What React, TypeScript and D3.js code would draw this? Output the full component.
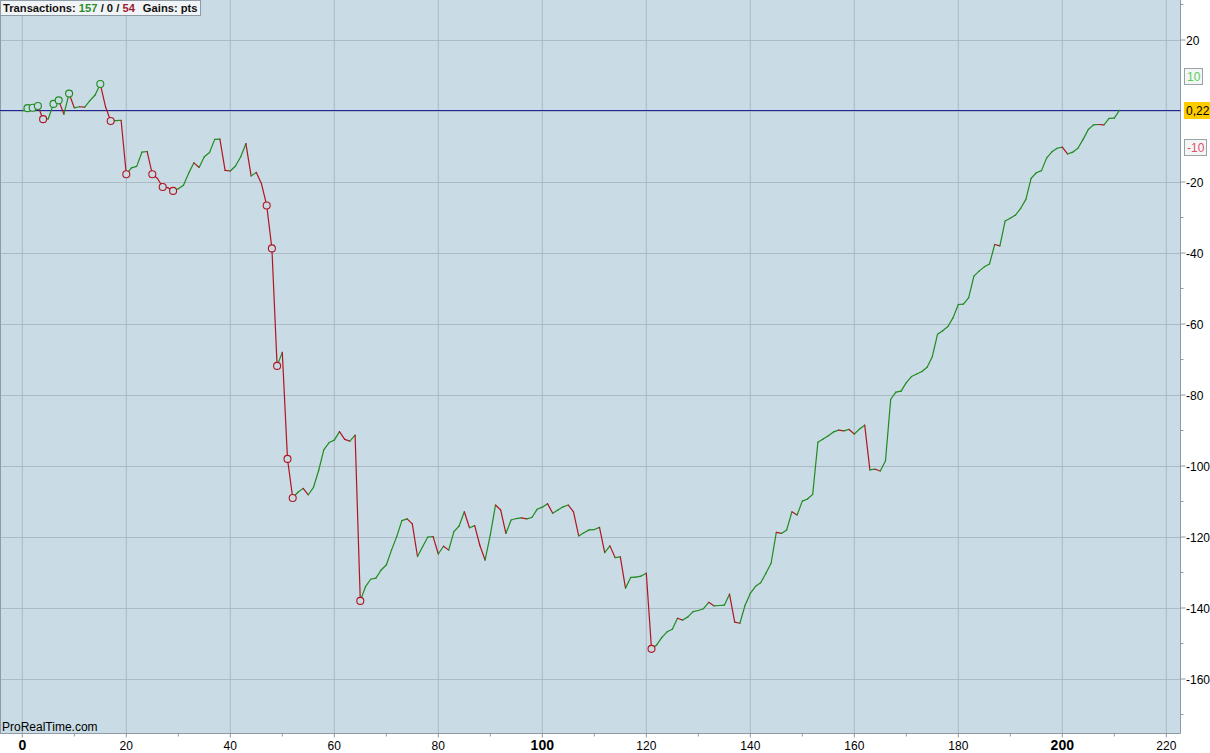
import React, { useEffect } from "react";
import * as d3 from "d3";

// equity curve, one point per closed trade (pts)
const equity: number[] = [
  0, 0.8, 0.9, 1.4, -2.3, -2.2, 2.0, 3.0, -0.9, 4.9,
  0.9, 1.2, 1.1, 2.9, 4.5, 7.6, 1.2, -2.8, -2.7, -2.6,
  -17.8, -16.0, -15.6, -11.6, -11.4, -17.8, -19.0, -21.4, -21.6, -22.5,
  -21.9, -20.9, -17.5, -14.6, -15.9, -12.9, -11.7, -8.0, -7.9, -16.7,
  -16.9, -15.5, -12.9, -9.2, -18.3, -17.3, -20.5, -26.6, -38.7, -71.8,
  -68.0, -98.0, -109.0, -107.4, -106.3, -108.1, -106.0, -101.2, -95.4, -93.4,
  -92.7, -90.3, -92.5, -93.0, -91.3, -138.0, -134.0, -131.9, -131.6, -129.3,
  -127.9, -123.7, -119.9, -115.4, -114.9, -116.3, -125.5, -122.7, -120.0, -119.9,
  -124.8, -122.6, -123.7, -118.5, -116.9, -112.9, -117.4, -116.8, -122.4, -126.5,
  -119.4, -111.0, -112.4, -119.0, -115.2, -114.8, -114.6, -114.9, -114.5, -112.2,
  -111.6, -110.6, -113.3, -112.4, -111.5, -111.0, -112.9, -119.7, -118.8, -118.0,
  -117.9, -117.3, -124.4, -122.5, -125.8, -125.6, -134.4, -131.4, -131.3, -131.0,
  -130.2, -151.5, -150.4, -148.3, -146.7, -146.0, -142.9, -143.4, -142.5, -141.0,
  -140.7, -140.2, -138.4, -139.4, -139.3, -139.2, -136.1, -144.0, -144.3, -139.2,
  -135.9, -133.9, -132.9, -130.2, -127.4, -118.7, -119.0, -118.0, -112.9, -113.8,
  -109.9, -109.3, -108.0, -93.3, -92.4, -91.5, -90.4, -89.9, -90.1, -89.7,
  -91.0, -89.6, -88.5, -101.1, -100.9, -101.4, -98.5, -81.2, -79.2, -78.9,
  -76.5, -74.8, -74.1, -73.4, -72.2, -69.2, -62.9, -61.9, -60.7, -58.2,
  -54.5, -54.4, -52.6, -46.5, -45.1, -43.9, -43.1, -37.6, -38.0, -31.0,
  -30.2, -29.3, -27.4, -24.9, -19.0, -17.4, -16.8, -13.2, -11.5, -10.5,
  -10.2, -12.1, -11.6, -10.5, -8.0, -5.2, -3.9, -3.8, -3.9, -2.1,
  -2.0, 0.22,
];

// trades flagged with a circle
const markedWins = [1, 2, 3, 6, 7, 9, 15];
const markedLosses = [4, 17, 20, 25, 27, 29, 47, 48, 49, 51, 52, 65, 121];

const xTicks = [0, 20, 40, 60, 80, 100, 120, 140, 160, 180, 200, 220];
const xMinor = [10, 30, 50, 70, 90, 110, 130, 150, 170, 190, 210];
const boldX = [0, 100, 200];
const yTicks = [20, -20, -40, -60, -80, -100, -120, -140, -160];
const yGrid = [20, 0, -20, -40, -60, -80, -100, -120, -140, -160];
const yMinor = [30, -30, -50, -70, -90, -110, -130, -150, -170];

const lastValue = "0,22";
const winCount = 157;
const flatCount = 0;
const lossCount = 54;

const BG = "#c9dbe5";
const GRID = "#abbac4";
const GREEN = "#1f8c1f";
const RED = "#b01620";
const FONT = "Arial, 'Liberation Sans', sans-serif";

export default function App() {
  useEffect(() => {
    document.body.style.margin = "0";
  }, []);

  const W = 1210;
  const H = 753;
  const plotRight = 1180.5;
  const plotBottom = 733.5;

  const x = d3.scaleLinear().domain([0, 220]).range([22.3, 1166.3]);
  const y = d3.scaleLinear().domain([0, -160]).range([111, 679]);

  const segments = equity.slice(1).map((v, i) => ({
    x1: x(i),
    y1: y(equity[i]),
    x2: x(i + 1),
    y2: y(v),
    up: v >= equity[i],
  }));

  const zeroY = Math.round(y(0.22)) + 0.5;

  return (
    <svg width={W} height={H} style={{ display: "block" }} fontFamily={FONT}>
      <rect x={0} y={0} width={W} height={H} fill="#ffffff" />
      <rect x={0} y={0} width={plotRight} height={plotBottom} fill={BG} />

      {/* grid */}
      {xTicks.map((t) => (
        <line key={"gx" + t} x1={x(t)} x2={x(t)} y1={0} y2={plotBottom} stroke={GRID} strokeWidth={1} />
      ))}
      {yGrid.map((t) => (
        <line key={"gy" + t} x1={0} x2={plotRight} y1={Math.round(y(t)) + 0.5} y2={Math.round(y(t)) + 0.5} stroke={GRID} strokeWidth={1} />
      ))}

      {/* frame */}
      <line x1={0.5} x2={0.5} y1={0} y2={plotBottom} stroke="#8c9ba5" />
      <line x1={0} x2={plotRight} y1={plotBottom} y2={plotBottom} stroke="#8c9ba5" />
      <line x1={plotRight} x2={plotRight} y1={0} y2={plotBottom} stroke="#8c9ba5" />

      {/* last value line */}
      <line x1={0} x2={plotRight} y1={zeroY} y2={zeroY} stroke="#22229a" strokeWidth={1} />

      {/* equity */}
      {segments.map((s, i) => (
        <line key={"s" + i} x1={s.x1} y1={s.y1} x2={s.x2} y2={s.y2} stroke={s.up ? GREEN : RED} strokeWidth={1.2} strokeLinecap="round" />
      ))}
      {markedWins.map((i) => (
        <circle key={"w" + i} cx={x(i)} cy={y(equity[i])} r={3.5} fill={BG} stroke={GREEN} strokeWidth={1.1} />
      ))}
      {markedLosses.map((i) => (
        <circle key={"l" + i} cx={x(i)} cy={y(equity[i])} r={3.5} fill={BG} stroke={RED} strokeWidth={1.1} />
      ))}

      {/* bottom axis */}
      {xTicks.map((t) => (
        <g key={"xt" + t}>
          <line x1={x(t)} x2={x(t)} y1={plotBottom} y2={plotBottom + 4} stroke="#8c9ba5" />
          <text
            x={x(t)}
            y={750}
            textAnchor="middle"
            fontSize={boldX.includes(t) ? 14 : 12}
            fontWeight={boldX.includes(t) ? "bold" : "normal"}
            fill="#000"
          >
            {t}
          </text>
        </g>
      ))}
      {xMinor.map((t) => (
        <line key={"xm" + t} x1={x(t)} x2={x(t)} y1={plotBottom} y2={plotBottom + 3} stroke="#8c9ba5" />
      ))}

      {/* right axis */}
      {yTicks.map((t) => (
        <g key={"yt" + t}>
          <line x1={plotRight} x2={plotRight + 5} y1={y(t)} y2={y(t)} stroke="#8c9ba5" />
          <text x={1186} y={y(t) + 4.5} fontSize={12} fill="#000">
            {t}
          </text>
        </g>
      ))}
      {yMinor.map((t) => (
        <line key={"ym" + t} x1={plotRight} x2={plotRight + 3} y1={y(t)} y2={y(t)} stroke="#8c9ba5" />
      ))}

      {/* boxed gain / loss labels */}
      <rect x={1184.5} y={68.5} width={18} height={16} fill="#f4f6f6" stroke="#9aa3a8" />
      <text x={1187} y={81} fontSize={12} fill="#55d055">10</text>
      <rect x={1184.5} y={139.5} width={22} height={16} fill="#f4f6f6" stroke="#9aa3a8" />
      <text x={1187} y={152} fontSize={12} fill="#e0506e">-10</text>
      <rect x={1184} y={102} width={26} height={17} fill="#ffcc00" />
      <text x={1186} y={115} fontSize={12} fill="#000">{lastValue}</text>

      {/* header */}
      <rect x={0.5} y={0.5} width={200} height={15} fill="#f1f4f6" stroke="#8c9ba5" />
      <text x={3} y={12} fontSize={11.2} fontWeight="bold" fill="#111">
        <tspan>Transactions: </tspan>
        <tspan fill="#2e8b2e">{winCount}</tspan>
        <tspan>{` / ${flatCount} / `}</tspan>
        <tspan fill="#a01830">{lossCount}</tspan>
        <tspan dx={8}>Gains: pts</tspan>
      </text>

      <text x={2} y={731} fontSize={12} fill="#000">ProRealTime.com</text>
    </svg>
  );
}
